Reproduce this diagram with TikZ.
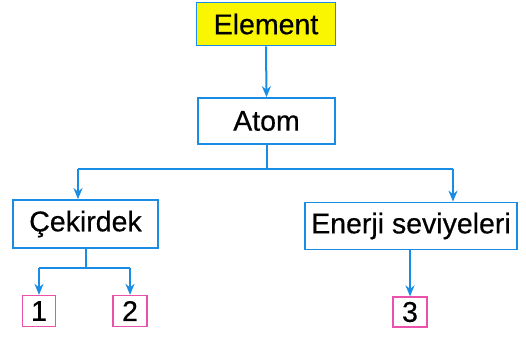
\documentclass[tikz,border=0pt]{standalone}
\usepackage{fontspec}
\setmainfont{Liberation Sans}[BoldFont=Liberation Sans, BoldFeatures={FakeBold=0.5}]
\usetikzlibrary{arrows.meta}
\definecolor{lblue}{RGB}{25,140,230}
\definecolor{lpink}{RGB}{235,80,170}
\definecolor{lyellow}{RGB}{250,245,0}
\tikzset{
  mainbox/.style={draw=lblue, line width=1.8pt, minimum height=46pt, inner sep=0pt, font=\fontsize{28.5}{30}\selectfont\bfseries},
  numbox/.style={draw=lpink, line width=1.3pt, minimum width=33pt, minimum height=31pt, inner sep=0pt, font=\fontsize{28.5}{30}\selectfont\bfseries},
  conn/.style={draw=lblue, line width=2pt},
  arr/.style={conn, -{Stealth[length=11pt,width=9pt]}}
}
\begin{document}
\begin{tikzpicture}[x=1pt,y=-1pt]
\useasboundingbox (0,0) rectangle (526,338);
\node[mainbox, fill=lyellow, minimum width=139pt, minimum height=43pt] (El) at (266,24) {Element};
\node[mainbox, minimum width=137pt] (At) at (266.5,121) {Atom};
\node[mainbox, minimum width=145pt, minimum height=48pt] (Ck) at (85.5,224) {Çekirdek};
\node[mainbox, minimum width=212pt, minimum height=47pt] (En) at (411,226) {Enerji seviyeleri};
\node[numbox] (B1) at (39,311) {1};
\node[numbox, minimum width=34pt] (B2) at (130,311) {2};
\node[numbox, minimum width=34pt, minimum height=30pt] (B3) at (410,312) {3};
\coordinate (jl) at (78,169);
\coordinate (jr) at (453,169);
\coordinate (kl) at (39,268);
\coordinate (kr) at (130,268);
\draw[arr] (El.south) -- (At.north);
\draw[conn] (At.south) -- (At.south |- jl);
\draw[conn] (jl) -- (jr);
\draw[arr] (jl) -- (jl |- Ck.north);
\draw[arr] (jr) -- (jr |- En.north);
\draw[conn] (Ck.south) -- (Ck.south |- kl);
\draw[conn] (kl) -- (kr);
\draw[arr] (kl) -- (B1.north);
\draw[arr] (kr) -- (B2.north);
\draw[arr] (B3.north |- En.south) -- (B3.north);
\end{tikzpicture}
\end{document}
